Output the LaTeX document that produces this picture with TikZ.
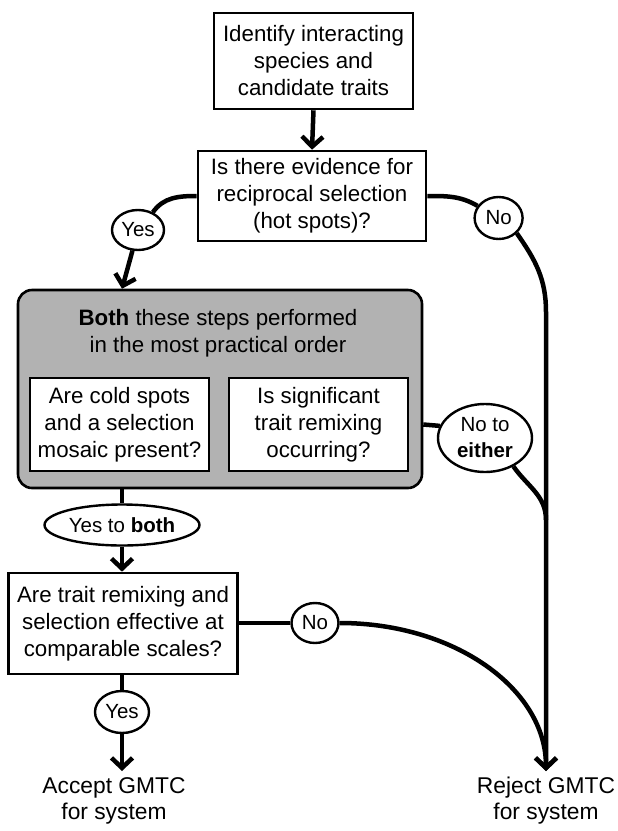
\documentclass[tikz,border=0pt]{standalone}
\usepackage{fontspec}
\setmainfont{Liberation Sans}
\usetikzlibrary{shapes.geometric}
\usetikzlibrary{arrows.meta}
\tikzset{>={Straight Barb[length=10pt,width=21pt]},
  box/.style = {draw=black,line width=2.6pt,fill=white,inner sep=0pt,align=center,
    font=\fontsize{22.3}{27}\selectfont},
  panel/.style = {draw=black,line width=2.6pt,fill=gray!60,rounded corners=14pt,inner sep=0pt},
  answer/.style = {ellipse,draw=black,line width=2.4pt,fill=white,inner sep=0pt,align=center,
    font=\fontsize{20.5}{26}\selectfont},
  flow/.style = {line width=4.5pt},
  outcome/.style = {inner sep=0pt,align=center,font=\fontsize{22.8}{26}\selectfont}
}

\begin{document}
\begin{tikzpicture}[x=1pt,y=1pt]
  \useasboundingbox (0,0) rectangle (618,-831);

  \node[box,minimum width=199pt,minimum height=96pt] (ident) at (313.5,-61)
    {Identify interacting\\species and\\candidate traits};
  \node[box,minimum width=228pt,minimum height=90pt] (hot) at (312,-196)
    {Is there evidence for\\reciprocal selection\\(hot spots)?};

  \node[panel,minimum width=404pt,minimum height=198pt] (both) at (220,-389) {};
  \node[inner sep=0pt,align=center,font=\fontsize{22.3}{27}\selectfont] (bothtxt) at (218,-333.5)
    {\textbf{Both} these steps performed\\in the most practical order};
  \node[box,minimum width=179pt,minimum height=93pt] (cold) at (119.5,-424.5)
    {Are cold spots\\and a selection\\mosaic present?};
  \node[box,minimum width=179pt,minimum height=93pt] (remix) at (318.5,-424.5)
    {Is significant\\trait remixing\\occurring?};

  \node[box,minimum width=229pt,minimum height=101pt] (scales) at (123,-623.5)
    {Are trait remixing and\\selection effective at\\comparable scales?};

  \node[answer,minimum width=52pt,minimum height=40pt] (yes1) at (138,-230) {Yes};
  \node[answer,minimum width=48pt,minimum height=42pt] (no1) at (498.6,-218) {No};
  \node[answer,minimum width=94pt,minimum height=68pt] (noeither) at (485,-438)
    {No to\\\textbf{either}};
  \node[answer,minimum width=155pt,minimum height=41pt] (yesboth) at (122,-525)
    {Yes to \textbf{both}};
  \node[answer,minimum width=47pt,minimum height=40pt] (no2) at (315,-623) {No};
  \node[answer,minimum width=54pt,minimum height=42pt] (yes2) at (122,-712) {Yes};

  \node[outcome] (accept) at (114,-801) {Accept GMTC\\for system};
  \node[outcome] (reject) at (546,-801) {Reject GMTC\\for system};

  \coordinate (atip) at (122,-771);
  \coordinate (rtip) at (546,-771);
  \coordinate (rtop) at (546,-312);
  \coordinate (rjoin) at (546,-520);

  \draw[flow,->] (ident.south) -- (hot.north);
  \draw[flow] (hot.west) to[out=180,in=55] (yes1.50);
  \draw[flow,->] (yes1.255) -- (both.north -| yesboth.north);
  \draw[flow] (hot.east) to[out=0,in=150] (no1.150);
  \draw[flow,->] (no1.-40) to[out=-55,in=90] (rtop) -- (rtip);
  \draw[flow] (both.east |- remix.east) -- (noeither.165);
  \draw[flow] (noeither.-45) to[out=-55,in=90] (rjoin);
  \draw[flow] (both.south -| yesboth.north) -- (yesboth.north);
  \draw[flow,->] (yesboth.south) -- (scales.north -| yesboth.south);
  \draw[flow] (scales.east |- no2.west) -- (no2.west);
  \draw[flow,->] (no2.east) .. controls +(115,0) and +(0,82) .. (rtip);
  \draw[flow] (scales.south -| yes2.north) -- (yes2.north);
  \draw[flow,->] (yes2.south) -- (atip);
\end{tikzpicture}
\end{document}
